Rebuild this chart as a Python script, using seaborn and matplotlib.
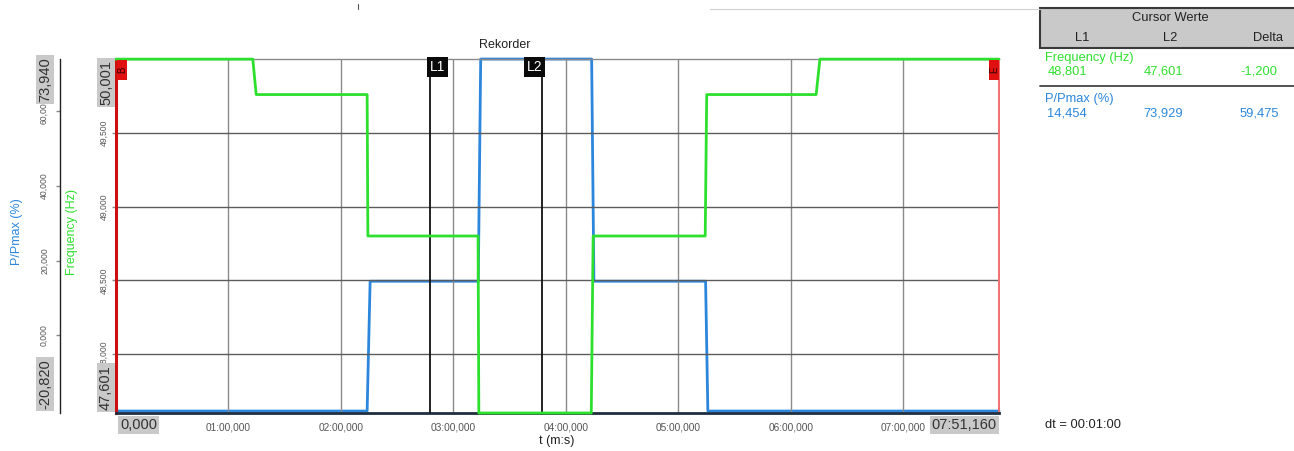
import matplotlib
matplotlib.use("Agg")
import matplotlib.pyplot as plt
import seaborn as sns
import pandas as pd
from matplotlib.ticker import FixedLocator, FuncFormatter
from matplotlib.patches import Rectangle
from matplotlib.lines import Line2D

# ---- recorded traces (time in seconds) ----
freq_time = [0.0, 73.0, 74.8, 134.0, 134.4, 193.2, 193.6, 253.6, 254.6,
             314.4, 315.2, 373.6, 375.6, 471.16]
freq_hz = [50.0, 50.0, 49.76, 49.76, 48.801, 48.801, 47.601, 47.601, 48.801,
           48.801, 49.76, 49.76, 50.0, 50.0]

p_time = [0.0, 134.0, 135.6, 193.3, 194.6, 253.8, 255.0, 314.6, 315.8, 471.16]
p_pct = [-20.3, -20.3, 14.454, 14.454, 73.929, 73.929, 14.454, 14.454,
         -20.3, -20.3]

# axis ranges
t_range = (0.0, 471.16)
freq_range = (47.601, 50.001)
p_range = (-20.820, 73.940)

# ticks
time_ticks = [60, 120, 180, 240, 300, 360, 420]
freq_ticks = [48.0, 48.5, 49.0, 49.5]
p_ticks = [0, 20, 40, 60]

# cursors
cursor_names = ["L1", "L2"]
cursor_time = [167.5, 227.5]
freq_cursor = [48.801, 47.601, -1.200]
p_cursor = [14.454, 73.929, 59.475]
dt_text = "dt = 00:01:00"

GREEN = "#2ee02e"
BLUE = "#2b86dc"
BOXGRAY = "#c9c9c9"
TXT = "#333333"

sns.set_theme(style="white")
plt.rcParams["font.family"] = ["Liberation Sans", "DejaVu Sans"]

W, H = 1294, 451
fig = plt.figure(figsize=(W / 100, H / 100), dpi=100)


def fx(x):
    return x / W


def fy(y):
    return 1 - y / H


def comma(v, nd=3):
    return f"{v:.{nd}f}".replace(".", ",")


def mmss(v, pos=None):
    m = int(v // 60)
    s = v - m * 60
    return f"{m:02d}:{s:02.0f},000"


ax = fig.add_axes([fx(116), fy(413), fx(999) - fx(116), fy(59) - fy(413)])
ax2 = ax.twinx()

df_f = pd.DataFrame({"t": freq_time, "f": freq_hz})
df_p = pd.DataFrame({"t": p_time, "p": p_pct})
sns.lineplot(data=df_p, x="t", y="p", ax=ax2, color=BLUE, lw=2.0,
             sort=False, estimator=None, clip_on=False)
sns.lineplot(data=df_f, x="t", y="f", ax=ax, color=GREEN, lw=2.0,
             sort=False, estimator=None, clip_on=False, zorder=5)
ax.set_zorder(2)
ax.patch.set_visible(False)
ax2.set_zorder(1)

ax.set_xlim(*t_range)
ax.set_ylim(*freq_range)
ax2.set_ylim(*p_range)
ax.set_xlabel("")
ax.set_ylabel("")
ax2.set_xlabel("")
ax2.set_ylabel("")

# grid
ax.xaxis.set_major_locator(FixedLocator(time_ticks))
ax.xaxis.set_major_formatter(FuncFormatter(mmss))
ax.yaxis.set_major_locator(FixedLocator(freq_ticks))
ax.yaxis.set_major_formatter(FuncFormatter(lambda v, p: comma(v)))
ax.xaxis.grid(True, color="#8a8a8a", lw=1.0)
ax.yaxis.grid(True, color="#5c5c5c", lw=1.0)
ax.set_axisbelow(True)

ax.tick_params(axis="x", length=3, width=1, color="#8a8a8a", pad=4,
               labelsize=7.3, labelcolor="#555555")
ax.tick_params(axis="y", length=3, width=1, color="#8a8a8a", pad=2,
               labelsize=6.2, labelcolor="#555555", labelrotation=90)
for lab in ax.get_yticklabels():
    lab.set_va("center")

# spines
ax.spines["left"].set_color("#cc1010")
ax.spines["left"].set_linewidth(2.2)
ax.spines["right"].set_color("#f07070")
ax.spines["right"].set_linewidth(1.4)
ax.spines["top"].set_color("#8a8a8a")
ax.spines["top"].set_linewidth(1.0)
ax.spines["bottom"].set_color("#1e2e40")
ax.spines["bottom"].set_linewidth(2.0)

# P/Pmax axis on the far left
ax2.yaxis.set_ticks_position("left")
ax2.spines["right"].set_visible(False)
ax2.spines["top"].set_visible(False)
ax2.spines["bottom"].set_visible(False)
ax2.spines["left"].set_visible(True)
ax2.spines["left"].set_position(("axes", (60 - 116) / 883))
ax2.spines["left"].set_color("#222222")
ax2.spines["left"].set_linewidth(1.0)
ax2.yaxis.set_major_locator(FixedLocator(p_ticks))
ax2.yaxis.set_major_formatter(FuncFormatter(lambda v, p: comma(v)))
ax2.tick_params(axis="y", length=3, width=1, color="#888888", pad=5,
                labelsize=6.2, labelcolor="#555555", labelrotation=90)
for lab in ax2.get_yticklabels():
    lab.set_va("center")

# cursors
for name, t in zip(cursor_names, cursor_time):
    ax.axvline(t, color="#111111", lw=1.3, zorder=3)
    ha = "left" if name == "L1" else "right"
    ax.text(t, 0.997, name, transform=ax.get_xaxis_transform(), ha=ha, va="top",
            fontsize=10, color="white", zorder=6,
            bbox=dict(boxstyle="square,pad=0.22", fc="#0a0a0a", ec="none"))

# begin / end markers (narrow red tags at the top corners)
for x0, letter in ((117, "B"), (989, "E")):
    fig.add_artist(Rectangle((fx(x0), fy(80)), fx(10), fy(60) - fy(80),
                             transform=fig.transFigure, fc="#e01010", ec="none",
                             zorder=8))
    fig.text(fx(x0 + 5), fy(70), letter, rotation=90, ha="center", va="center",
             fontsize=7, color="#330000", zorder=9)

# boxed range values
box = dict(boxstyle="square,pad=0.15", fc=BOXGRAY, ec="none")
fig.text(fx(106), fy(60), comma(freq_range[1]), rotation=90, ha="center", va="top",
         fontsize=10.5, color=TXT, bbox=box)
fig.text(fx(106), fy(410), comma(freq_range[0]), rotation=90, ha="center", va="bottom",
         fontsize=10.5, color=TXT, bbox=box)
fig.text(fx(45), fy(57), comma(p_range[1]), rotation=90, ha="center", va="top",
         fontsize=10.5, color=TXT, bbox=box)
fig.text(fx(45), fy(409), comma(p_range[0]), rotation=90, ha="center", va="bottom",
         fontsize=10.5, color=TXT, bbox=box)
fig.text(fx(120), fy(425), comma(t_range[0]), ha="left", va="center",
         fontsize=10.5, color=TXT, bbox=box)
fig.text(fx(997), fy(425), "07:51,160", ha="right", va="center",
         fontsize=10.5, color=TXT, bbox=box)

# titles and axis names
fig.text(fx(505), fy(45), "Rekorder", ha="center", va="center", fontsize=9, color="#222222")
fig.text(fx(557), fy(441), "t (m:s)", ha="center", va="center", fontsize=9, color="#222222")
fig.text(fx(17), fy(232), "P/Pmax (%)", rotation=90, ha="center", va="center",
         fontsize=9, color=BLUE)
fig.text(fx(72), fy(232), "Frequency (Hz)", rotation=90, ha="center", va="center",
         fontsize=9, color=GREEN)

# cursor value table
fig.add_artist(Rectangle((fx(1040), fy(48)), fx(1300) - fx(1040), fy(8) - fy(48),
                         transform=fig.transFigure, fc=BOXGRAY, ec="#3a3a3a", lw=1.5))
fig.text(fx(1170), fy(18), "Cursor Werte", ha="center", va="center", fontsize=9.3, color="#222222")
fig.text(fx(1082), fy(38), "L1", ha="center", va="center", fontsize=9.3, color="#222222")
fig.text(fx(1170), fy(38), "L2", ha="center", va="center", fontsize=9.3, color="#222222")
fig.text(fx(1283), fy(38), "Delta", ha="right", va="center", fontsize=9.3, color="#222222")

col_x = [1067, 1163, 1259]
fig.text(fx(1045), fy(58), "Frequency (Hz)", ha="left", va="center", fontsize=9.3, color=GREEN)
for x, v in zip(col_x, freq_cursor):
    fig.text(fx(x), fy(72), comma(v), ha="center", va="center", fontsize=9.3, color=GREEN)
fig.add_artist(Line2D([fx(1040), fx(1294)], [fy(86), fy(86)],
                      transform=fig.transFigure, color="#444444", lw=1.3))
fig.text(fx(1045), fy(99), "P/Pmax (%)", ha="left", va="center", fontsize=9.3, color=BLUE)
for x, v in zip(col_x, p_cursor):
    fig.text(fx(x), fy(114), comma(v), ha="center", va="center", fontsize=9.3, color=BLUE)

fig.text(fx(1045), fy(425), dt_text, ha="left", va="center", fontsize=9.3, color="#222222")

# thin frame line at the top
fig.add_artist(Line2D([fx(710), fx(1040)], [fy(9), fy(9)],
                      transform=fig.transFigure, color="#d0d0d0", lw=0.8))
fig.add_artist(Line2D([fx(358), fx(358)], [fy(4), fy(9)],
                      transform=fig.transFigure, color="#555555", lw=0.8))

fig.savefig("out.png", dpi=100)
